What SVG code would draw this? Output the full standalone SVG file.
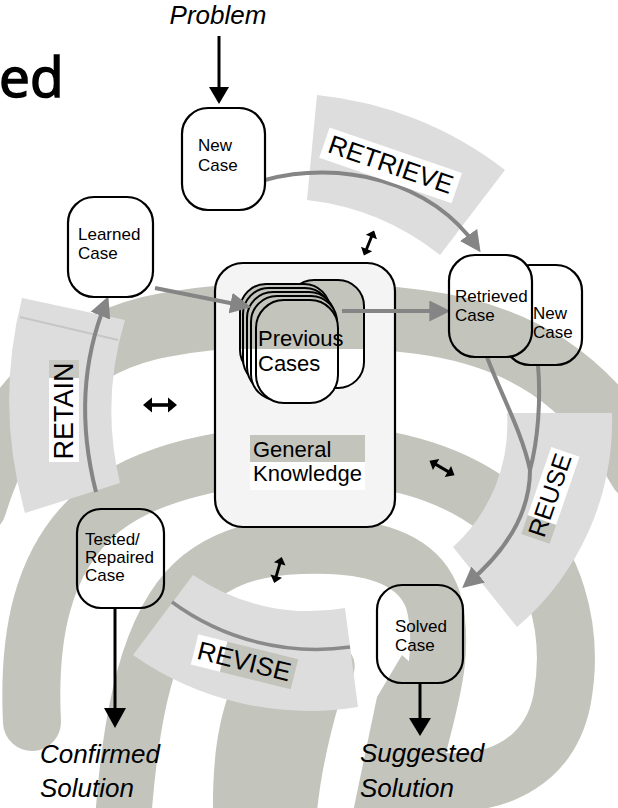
<svg xmlns="http://www.w3.org/2000/svg" width="618" height="808" viewBox="0 0 618 808">
<style>
.band{fill:none;stroke:#c3c4bc;stroke-linecap:round}
.blob{fill:#c3c4bc}
.sector{fill:#dddddd}
.box{fill:none;stroke:#000;stroke-width:2.2}
.t{font-family:"Liberation Sans",Arial,Helvetica,sans-serif;fill:#000}
.bt{font-size:17px}
.ph{font-size:26px}
.io{font-size:26px;font-style:italic}
.ga{fill:none;stroke:#858585;stroke-width:4}
.ka{fill:none;stroke:#000;stroke-width:3}
</style>
<defs>
<marker id="gh" viewBox="0 0 10 10" refX="7" refY="5" markerWidth="21" markerHeight="21" markerUnits="userSpaceOnUse" orient="auto"><path d="M0,0 L10,5 L0,10 Z" fill="#858585"/></marker>
<g id="dbl"><path d="M-17 0 L-8 -7.5 L-8 7.5 Z M17 0 L8 -7.5 L8 7.5 Z"/><rect x="-9" y="-1.8" width="18" height="3.6"/></g>
<linearGradient id="cg" gradientUnits="userSpaceOnUse" x1="0" y1="270" x2="0" y2="410">
<stop offset="0" stop-color="#c3c4bc"/><stop offset="0.564" stop-color="#c3c4bc"/><stop offset="0.564" stop-color="#ffffff"/><stop offset="1" stop-color="#ffffff"/>
</linearGradient>
<mask id="mfront"><rect width="618" height="808" fill="#fff"/><rect x="449" y="255" width="83" height="102" rx="26" fill="#000"/></mask>
</defs>
<rect width="618" height="808" fill="#fff"/>
<g id="spiral">
<path class="band" stroke-width="64" d="M -25 505 C 0 420, 60 350, 150 328 C 220 312, 330 310, 420 322 C 520 335, 590 380, 640 470"/>
<path class="band" stroke-width="58" d="M 32 722 C 28 640, 40 560, 100 510 C 150 470, 230 456, 300 454 C 380 452, 450 470, 500 510 C 555 555, 575 630, 562 700 C 550 760, 500 785, 445 782"/>
<path class="band" stroke-width="56" d="M 122 835 C 128 740, 142 640, 187 590 C 228 545, 290 545, 330 546 C 380 548, 420 562, 433 600 C 447 650, 430 700, 418 750 L 410 835"/>
<path class="blob" d="M 353 812 L 377 697 L 402 655 L 440 690 L 440 812 Z"/>
<path class="blob" d="M 213 812 C 212 740, 225 680, 255 650 C 285 625, 330 628, 350 652 C 362 668, 348 688, 340 700 C 328 740, 320 780, 317 812 Z"/>
</g>
<g id="sectors">
<path id="retrieve-band" class="sector" d="M 317 95 A 367 367 0 0 1 505 170 L 440 255 A 261 261 0 0 0 307 200 Z"/>
<path id="retain-band" class="sector" d="M 22 298 L 125 320 A 312 312 0 0 0 120 483 L 25 513 A 417 417 0 0 1 22 298 Z"/>
<line x1="20" y1="317" x2="118" y2="340" stroke="#c6c6c6" stroke-width="2"/>
<path id="reuse-band" class="sector" d="M 507 413 L 612 413 A 270 270 0 0 1 517 627 L 453 547 A 166 166 0 0 0 507 413 Z"/>
<path id="revise-band" class="sector" d="M 193 575 A 206 206 0 0 0 345 608 L 358 707 A 306 306 0 0 1 133 655 Z"/>
</g>
<text class="t" x="-1" y="97" stroke="#000" stroke-width="1.6" style="font-family:'Open Sans','Liberation Sans',sans-serif;font-size:55px">ed</text>
<g id="knowledge">
<rect x="215" y="263" width="180" height="264" rx="28" fill="#f4f4f4" stroke="#000" stroke-width="2.2"/>
<rect x="250" y="435" width="115" height="27" fill="#c3c4bc"/>
<rect x="250" y="462" width="115" height="28" fill="#fff"/>
<text class="t" x="253" y="457" font-size="22">General</text>
<text class="t" x="253" y="481" font-size="22">Knowledge</text>
</g>
<g id="previous-cases" stroke="#000" stroke-width="2" fill="url(#cg)">
<rect x="288" y="280" width="76" height="108" rx="26"/>
<rect x="240" y="284" width="90" height="92" rx="26"/>
<rect x="243" y="288" width="88" height="97" rx="26"/>
<rect x="247" y="292" width="88" height="101" rx="26"/>
<rect x="251" y="296" width="86" height="104" rx="26"/>
<rect x="256" y="300" width="82" height="103" rx="28"/>
<text class="t" x="258" y="346" font-size="22" stroke="none">Previous</text>
<text class="t" x="258" y="371" font-size="22" stroke="none">Cases</text>
</g>
<g id="connectors">
<path class="ga" marker-end="url(#gh)" d="M 265 180 C 340 160, 430 180, 477 247"/>
<path class="ga" marker-end="url(#gh)" d="M 155 288 L 245 306"/>
<path class="ga" marker-end="url(#gh)" d="M 342 311 L 444 311"/>
<path class="ga" marker-end="url(#gh)" d="M 96 492 Q 70 390 106 302"/>
<path class="ga" stroke-width="3" d="M 487 357 C 500 392, 522 432, 530 470"/>
<path class="ga" stroke-width="3" d="M 538 365 C 541 400, 538 440, 530 470"/>
<path class="ga" marker-end="url(#gh)" d="M 530 470 C 530 515, 505 552, 467 584"/>
<path fill="none" stroke="#8a8a8a" stroke-width="3.5" d="M 172 602 A 243 243 0 0 0 350 647"/>
<line class="ka" x1="219" y1="36" x2="219" y2="90"/>
<polygon points="209,87 229,87 219,104"/>
<line class="ka" x1="115" y1="609" x2="115" y2="712"/>
<polygon points="104,708 126,708 115,728"/>
<line class="ka" x1="420" y1="683" x2="420" y2="722"/>
<polygon points="409,718 431,718 420,736"/>
<use href="#dbl" transform="translate(369,243) rotate(112) scale(0.8)"/>
<use href="#dbl" transform="translate(160,405)"/>
<use href="#dbl" transform="translate(442,468) rotate(30) scale(0.85)"/>
<use href="#dbl" transform="translate(278,570) rotate(106) scale(0.8)"/>
</g>
<g id="new-case">
<rect class="box" x="182" y="108" width="83" height="102" rx="26"/>
<text class="t bt" x="198" y="151">New</text>
<text class="t bt" x="198" y="171">Case</text>
</g>
<g id="learned-case">
<rect class="box" x="68" y="197" width="85" height="100" rx="26"/>
<text class="t bt" x="78" y="240">Learned</text>
<text class="t bt" x="78" y="259">Case</text>
</g>
<g id="new-case-2">
<rect class="box" x="504" y="265" width="78" height="100" rx="26" mask="url(#mfront)"/>
<text class="t bt" x="533" y="319">New</text>
<text class="t bt" x="533" y="338">Case</text>
</g>
<g id="retrieved-case">
<rect class="box" x="449" y="255" width="83" height="102" rx="26"/>
<text class="t bt" x="455" y="302">Retrieved</text>
<text class="t bt" x="455" y="321">Case</text>
</g>
<g id="tested-case">
<rect class="box" x="77" y="509" width="87" height="99" rx="24"/>
<text class="t bt" x="85" y="545">Tested/</text>
<text class="t bt" x="85" y="563">Repaired</text>
<text class="t bt" x="85" y="581">Case</text>
</g>
<g id="solved-case">
<rect class="box" x="377" y="585" width="86" height="98" rx="25"/>
<text class="t bt" x="395" y="632">Solved</text>
<text class="t bt" x="395" y="651">Case</text>
</g>
<g id="labels">
<g transform="translate(388,173) rotate(19)">
<rect x="-70" y="-24" width="140" height="32" fill="#fff"/>
<text class="t ph" x="0" y="0" text-anchor="middle">RETRIEVE</text>
</g>
<g transform="translate(73,411) rotate(-90)">
<rect x="-51" y="-24" width="84" height="30" fill="#fff"/>
<rect x="33" y="-24" width="18" height="30" fill="#c9c9c4"/>
<text class="t" font-size="27" x="0" y="0" text-anchor="middle">RETAIN</text>
</g>
<g transform="translate(558,498) rotate(-71)">
<rect x="-46" y="-23" width="20" height="30" fill="#c3c4bc"/>
<rect x="-26" y="-23" width="72" height="30" fill="#fff"/>
<text class="t" font-size="25" x="0" y="0" text-anchor="middle">REUSE</text>
</g>
<g transform="translate(242,670) rotate(14)">
<rect x="-51" y="-24" width="30" height="31" fill="#fff"/>
<rect x="-21" y="-24" width="73" height="31" fill="#c3c4bc"/>
<text class="t ph" x="0" y="0" text-anchor="middle">REVISE</text>
</g>
<text class="t io" x="218" y="24" text-anchor="middle">Problem</text>
<text class="t io" x="40" y="763">Confirmed</text>
<text class="t io" x="40" y="797">Solution</text>
<text class="t io" x="360" y="762">Suggested</text>
<text class="t io" x="360" y="797">Solution</text>
</g>
</svg>
